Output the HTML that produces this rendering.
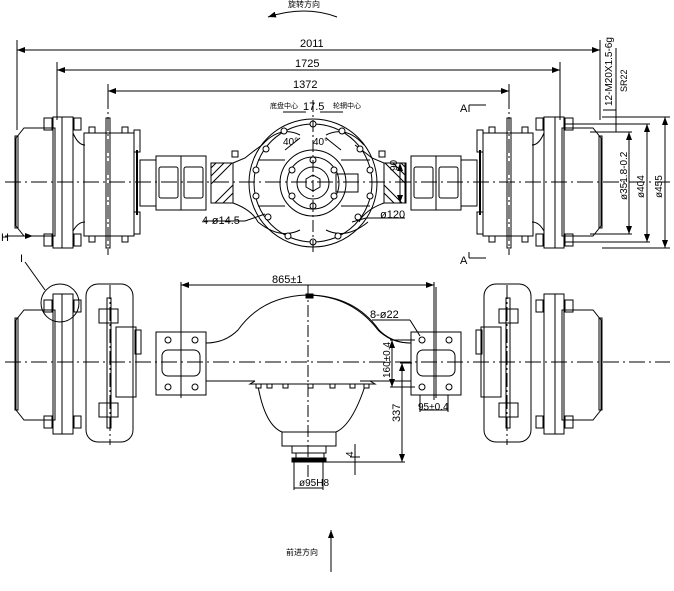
<!DOCTYPE html>
<html><head><meta charset="utf-8"><style>
html,body{margin:0;padding:0;background:#fff;width:674px;height:591px;overflow:hidden}
svg{display:block}
text{font-family:"Liberation Sans","Noto Sans CJK SC",sans-serif;fill:#000}
</style></head><body>
<svg width="674" height="591" viewBox="0 0 674 591" xmlns="http://www.w3.org/2000/svg">
<defs>
<marker id="a" markerWidth="8" markerHeight="6" refX="8" refY="3" orient="auto"><path d="M0,0 L8,3 L0,6z" fill="#000"/></marker>
<g id="lt" fill="none" stroke="#000" stroke-width="1">
  <path d="M24,128 L55,128 L55,236 L24,236 L16,226 L16,138z"/>
  <rect x="15" y="136" width="3" height="92"/>
  <rect x="53" y="117" width="20" height="131"/>
  <line x1="62" y1="117" x2="62" y2="248"/>
  <rect x="44" y="118" width="8" height="12"/><rect x="44" y="234" width="8" height="12"/>
  <rect x="74" y="118" width="7" height="12"/><rect x="74" y="234" width="7" height="12"/>
  <path d="M73,133 Q78,145 85,145 M73,231 Q78,222 85,222"/>
  <rect x="84" y="133" width="50" height="103"/>
  <rect x="106" y="118" width="4" height="130"/>
  <rect x="89" y="127" width="6" height="6"/><rect x="89" y="236" width="6" height="6"/>
  <rect x="122" y="127" width="6" height="6"/><rect x="122" y="236" width="6" height="6"/>
  <rect x="134" y="130" width="6" height="22"/><rect x="134" y="212" width="6" height="22"/>
  <line x1="137" y1="150" x2="137" y2="215" stroke-width="2"/>
  <rect x="140" y="160" width="16" height="46"/>
  <rect x="156" y="156" width="50" height="54"/>
  <line x1="181" y1="156" x2="181" y2="210"/>
  <rect x="159" y="167" width="19" height="31" rx="2"/><rect x="184" y="167" width="19" height="31" rx="2"/>
  <rect x="211" y="163" width="22" height="40"/>
  <path d="M211,168 L216,163 M211,176 L224,163 M211,184 L232,163 M215,203 L233,185 M223,203 L233,193" />
  <path d="M233,163 L245,158 Q255,150 262,145 M233,203 Q252,210 258,222"/>
  <rect x="232" y="151" width="6" height="6"/>
  <path d="M24,310 L55,310 L55,420 L24,420 L16,410 L16,320z"/>
  <rect x="15" y="318" width="3" height="92"/>
  <rect x="53" y="294" width="20" height="140"/>
  <line x1="62" y1="294" x2="62" y2="434"/>
  <rect x="44" y="300" width="8" height="12"/><rect x="44" y="416" width="8" height="12"/>
  <rect x="74" y="300" width="7" height="12"/><rect x="74" y="416" width="7" height="12"/>
  <rect x="86" y="284" width="47" height="158" rx="12"/>
  <rect x="107" y="298" width="4" height="130"/>
  <rect x="99" y="309" width="19" height="14"/><rect x="99" y="403" width="19" height="14"/>
  <rect x="116" y="327" width="20" height="70"/>
  <rect x="135" y="330" width="6" height="24"/>
  <rect x="156" y="332" width="50" height="63"/>
  <rect x="162" y="350" width="38" height="26" rx="6"/>
  <line x1="181" y1="287" x2="181" y2="398"/>
  <circle cx="168" cy="340" r="3"/><circle cx="195" cy="340" r="3"/><circle cx="168" cy="387" r="3"/><circle cx="195" cy="387" r="3"/>
  <path d="M206,343 Q225,343 238,330 Q262,296 308,295 M206,381 L255,381"/>
</g>
</defs>
<g fill="none" stroke="#000" stroke-width="1">
<use href="#lt"/>
<use href="#lt" transform="translate(617,0) scale(-1,1)"/>
<circle cx="60" cy="303" r="19"/>
<circle cx="313" cy="183" r="64"/>
<circle cx="313" cy="183" r="59"/>
<circle cx="313" cy="183" r="33"/>
<circle cx="313" cy="183" r="26"/>
<circle cx="313" cy="183" r="16"/>
<polygon points="313,175 320,179 320,187 313,191 306,187 306,179"/>
<path d="M262,145 Q280,125 300,135 M364,145 Q346,125 326,135 M258,222 Q280,240 300,230 M368,222 Q346,240 326,230"/>
<path d="M258,160 L285,160 M341,160 L370,160 M258,206 L285,206 M341,206 L370,206"/>
<rect x="336" y="174" width="22" height="18"/>
<g fill="#fff">
<circle cx="313" cy="124" r="3"/><circle cx="313" cy="242" r="3"/><circle cx="284" cy="131" r="3"/><circle cx="342" cy="131" r="3"/>
<circle cx="266" cy="149" r="3"/><circle cx="360" cy="149" r="3"/><circle cx="256" cy="170" r="3"/><circle cx="370" cy="170" r="3"/>
<circle cx="256" cy="196" r="3"/><circle cx="370" cy="196" r="3"/><circle cx="268" cy="217" r="3"/><circle cx="358" cy="217" r="3"/>
<circle cx="288" cy="236" r="3"/><circle cx="338" cy="236" r="3"/><circle cx="313" cy="160" r="3"/><circle cx="313" cy="206" r="3"/>
<circle cx="292" cy="170" r="3"/><circle cx="334" cy="170" r="3"/><circle cx="292" cy="196" r="3"/><circle cx="334" cy="196" r="3"/>
</g>
<line x1="313" y1="100" x2="313" y2="255" stroke-dasharray="12,3,2,3"/>
<path d="M388,163 L405,163 L405,203 L388,203"/>
<path d="M255,381 L250,384 L375,384 L370,381"/>
<path d="M308,295 Q352,296 378,330 Q391,343 410,343 M360,381 L410,381"/>
<path d="M258,386 Q265,425 282,432 L336,432 Q352,425 365,386"/>
<rect x="282" y="432" width="54" height="14"/>
<rect x="292" y="446" width="34" height="7"/>
<rect x="296" y="453" width="28" height="5"/>
<rect x="292" y="458" width="34" height="4" fill="#000"/>
<g fill="#fff"><rect x="256" y="384" width="5" height="4"/><rect x="267" y="384" width="5" height="4"/><rect x="283" y="384" width="5" height="4"/><rect x="308" y="384" width="5" height="4"/><rect x="330" y="384" width="5" height="4"/><rect x="350" y="384" width="5" height="4"/><rect x="364" y="384" width="5" height="4"/></g>
<rect x="306" y="294" width="7" height="4" fill="#000"/>
<line x1="308" y1="285" x2="308" y2="480" stroke-dasharray="12,3,2,3"/>
<line x1="5" y1="182" x2="670" y2="182" stroke-dasharray="16,4,2,4"/>
<line x1="5" y1="362" x2="670" y2="362" stroke-dasharray="16,4,2,4"/>
<line x1="108" y1="95" x2="108" y2="255" stroke-dasharray="14,3,2,3"/>
<line x1="509" y1="95" x2="509" y2="255" stroke-dasharray="14,3,2,3"/>
<line x1="110" y1="285" x2="110" y2="445" stroke-dasharray="14,3,2,3"/>
<line x1="507" y1="285" x2="507" y2="445" stroke-dasharray="14,3,2,3"/>
<line x1="17" y1="40" x2="17" y2="130"/><line x1="600" y1="40" x2="600" y2="120"/>
<line x1="17" y1="50" x2="600" y2="50" marker-end="url(#a)"/><line x1="600" y1="50" x2="17" y2="50" marker-end="url(#a)"/>
<line x1="57" y1="62" x2="57" y2="120"/><line x1="560" y1="62" x2="560" y2="120"/>
<line x1="57" y1="70" x2="560" y2="70" marker-end="url(#a)"/><line x1="560" y1="70" x2="57" y2="70" marker-end="url(#a)"/>
<line x1="108" y1="84" x2="108" y2="95"/><line x1="509" y1="84" x2="509" y2="95"/>
<line x1="108" y1="91" x2="509" y2="91" marker-end="url(#a)"/><line x1="509" y1="91" x2="108" y2="91" marker-end="url(#a)"/>
<line x1="602" y1="117" x2="670" y2="117"/><line x1="602" y1="248" x2="670" y2="248"/>
<line x1="665" y1="117" x2="665" y2="248" marker-end="url(#a)"/><line x1="665" y1="248" x2="665" y2="117" marker-end="url(#a)"/>
<line x1="565" y1="124" x2="650" y2="124"/><line x1="565" y1="242" x2="650" y2="242"/>
<line x1="647" y1="124" x2="647" y2="242" marker-end="url(#a)"/><line x1="647" y1="242" x2="647" y2="124" marker-end="url(#a)"/>
<line x1="590" y1="132" x2="632" y2="132"/><line x1="590" y1="234" x2="632" y2="234"/>
<line x1="629" y1="132" x2="629" y2="234" marker-end="url(#a)"/><line x1="629" y1="234" x2="629" y2="132" marker-end="url(#a)"/>
<line x1="616" y1="48" x2="616" y2="125"/><line x1="603" y1="110" x2="616" y2="110"/><line x1="616" y1="122" x2="616" y2="132"/>
<path d="M469,105 L469,112 M469,105 L486,105" /><path d="M469,258 L469,252 M469,258 L486,258"/>
<path d="M5,236 L33,236" marker-end="url(#a)"/>
<path d="M25,262 L45,290"/>
<line x1="400" y1="163" x2="400" y2="203" marker-end="url(#a)"/><line x1="400" y1="203" x2="400" y2="163" marker-end="url(#a)"/>
<line x1="366" y1="218" x2="405" y2="218"/><line x1="366" y1="218" x2="352" y2="222"/>
<line x1="204" y1="221" x2="245" y2="221"/><line x1="245" y1="221" x2="265" y2="214"/>
<line x1="283" y1="112" x2="306" y2="112"/><line x1="320" y1="112" x2="343" y2="112"/>
<path d="M300,138 L285,150 M326,138 L341,150"/>
<line x1="181" y1="282" x2="181" y2="295"/><line x1="434" y1="282" x2="434" y2="400"/>
<line x1="181" y1="285" x2="434" y2="285" marker-end="url(#a)"/><line x1="434" y1="285" x2="181" y2="285" marker-end="url(#a)"/>
<line x1="372" y1="320" x2="410" y2="320"/><line x1="410" y1="320" x2="420" y2="336"/>
<line x1="390" y1="340" x2="415" y2="340"/><line x1="390" y1="387" x2="415" y2="387"/>
<line x1="392" y1="340" x2="392" y2="387" marker-end="url(#a)"/><line x1="392" y1="387" x2="392" y2="340" marker-end="url(#a)"/>
<line x1="400" y1="363" x2="412" y2="363"/>
<line x1="402" y1="363" x2="402" y2="462" marker-end="url(#a)"/><line x1="402" y1="462" x2="402" y2="363" marker-end="url(#a)"/>
<line x1="326" y1="462" x2="405" y2="462"/>
<line x1="420" y1="395" x2="420" y2="412"/><line x1="448" y1="395" x2="448" y2="412"/><line x1="420" y1="410" x2="448" y2="410"/>
<line x1="355" y1="444" x2="355" y2="475"/><line x1="350" y1="457" x2="360" y2="457"/>
<line x1="294" y1="462" x2="294" y2="490"/><line x1="323" y1="462" x2="323" y2="490"/><line x1="294" y1="488" x2="323" y2="488"/>
<path d="M337,17 Q305,5 268,17" marker-end="url(#a)"/>
<line x1="331" y1="572" x2="331" y2="530" marker-end="url(#a)"/>
</g>
<g font-size="11">
<text x="300" y="47">2011</text>
<text x="295" y="67">1725</text>
<text x="293" y="88">1372</text>
<text x="303" y="110">17.5</text>
<text x="270" y="108" font-size="7">底盘中心</text>
<text x="333" y="108" font-size="7">轮辋中心</text>
<text x="283" y="145" font-size="10">40°</text><text x="313" y="145" font-size="10">40°</text>
<text x="202" y="224">4-ø14.5</text>
<text x="380" y="218">ø120</text>
<text x="288" y="7" font-size="8">旋转方向</text>
<text x="286" y="555" font-size="8">前进方向</text>
<text x="272" y="283">865±1</text>
<text x="370" y="318">8-ø22</text>
<text x="418" y="410" font-size="10">95±0.4</text>
<text x="299" y="486" font-size="10">ø95H8</text>
<text x="1" y="241">H</text>
<text x="20" y="262">I</text>
<text x="460" y="112">A</text>
<text x="460" y="264">A</text>
<text transform="translate(397,171) rotate(-90)" font-size="10">90</text>
<text transform="translate(390,378) rotate(-90)" font-size="10">160±0.4</text>
<text transform="translate(400,422) rotate(-90)">337</text>
<text transform="translate(353,457) rotate(-90)" font-size="10">4</text>
<text transform="translate(612,106) rotate(-90)" font-size="10">12-M20X1.5-6g</text>
<text transform="translate(627,92) rotate(-90)" font-size="9">SR22</text>
<text transform="translate(627,200) rotate(-90)" font-size="10">ø351.8-0.2</text>
<text transform="translate(644,198) rotate(-90)" font-size="10">ø404</text>
<text transform="translate(662,198) rotate(-90)" font-size="10">ø455</text>
</g>
</svg>
</body></html>
